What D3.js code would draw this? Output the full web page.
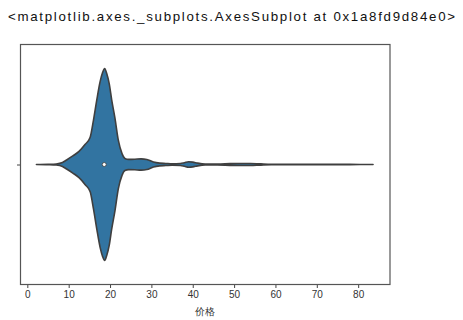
<!DOCTYPE html>
<html>
<head>
<meta charset="utf-8">
<script src="https://cdn.jsdelivr.net/npm/d3@7"></script>
<style>
  body { margin: 0; background: #fff; }
  text { font-family: "Liberation Sans", Arial, sans-serif; }
</style>
</head>
<body>
<svg id="chart" width="463" height="320"></svg>
<script>
// kde outline of the price column (peak = 1)
const price = [2.2, 5, 7, 8.5, 9.5, 11, 12.5, 14, 15.2, 16, 16.8, 17.6, 18.2, 18.7, 19.2, 19.8, 20.4, 21.2, 22, 22.9, 23.6, 24.5, 26, 27.5, 28.9, 30.5, 32, 33.5, 35, 37, 38, 39, 40, 41.2, 43, 46, 49, 52, 54, 56.5, 59, 65, 72, 78, 83.6];
const density = [0, .002, .006, .021, .047, .089, .137, .21, .284, .463, .674, .863, .958, 1, .947, .842, .674, .481, .253, .113, .063, .053, .055, .059, .053, .025, .014, .011, .008, .011, .019, .028, .025, .014, .005, .005, .009, .011, .010, .006, .003, .002, .001, .001, 0];
const median = 18.6;
const xTicks = [0, 10, 20, 30, 40, 50, 60, 70, 80];
const xLabel = "价格";
const title = "<matplotlib.axes._subplots.AxesSubplot at 0x1a8fd9d84e0>";

const margin = {top: 44.5, right: 73, bottom: 35.5, left: 20.5};
const width = 463 - margin.left - margin.right;
const height = 320 - margin.top - margin.bottom;

const svg = d3.select('#chart');

// repr line printed above the figure
svg.append('text')
  .attr('x', 8)
  .attr('y', 21)
  .attr('font-family', '"Liberation Mono", "DejaVu Sans Mono", monospace')
  .attr('font-size', 13.3)
  .attr('fill', '#111')
  .attr('textLength', 447)
  .text(title);

const g = svg.append('g')
  .attr('transform', 'translate(' + margin.left + ',' + margin.top + ')');

// x scale: price, y scale: single category band from -0.5 to 0.5
let x = d3.scaleLinear().domain([-1.65, 87.7]).range([0, width]);
let y = d3.scaleLinear().domain([-0.5, 0.5]).range([0, height]);

// violin half width = 0.4 of the category
let w = d3.scaleLinear().domain([0, 1]).range([0, 0.4]);

const pts = price.map((p, i) => ({p: p, d: density[i]}));

const area = d3.area()
  .x(d => x(d.p))
  .y0(d => y(-w(d.d)))
  .y1(d => y(w(d.d)))
  .curve(d3.curveMonotoneX);

g.append('path')
  .datum(pts)
  .attr('d', area)
  .attr('fill', '#3274a1')
  .attr('stroke', '#3f3f3f')
  .attr('stroke-width', 1.6)
  .attr('stroke-linejoin', 'round');

// median dot
g.append('circle')
  .attr('cx', x(median))
  .attr('cy', y(0))
  .attr('r', 2)
  .attr('fill', '#fff')
  .attr('stroke', '#3f3f3f')
  .attr('stroke-width', 0.8);

// x axis
const xAxis = g.append('g')
  .attr('transform', 'translate(0,' + height + ')')
  .call(d3.axisBottom(x).tickValues(xTicks).tickSize(3.5).tickPadding(2.5));
xAxis.select('.domain').remove();
xAxis.selectAll('line').attr('stroke', '#444');
xAxis.selectAll('text')
  .attr('font-size', 10)
  .attr('fill', '#333')
  .attr('font-family', '"Liberation Sans", Arial, sans-serif');

// y axis: one tick, no label
const yAxis = g.append('g')
  .call(d3.axisLeft(y).tickValues([0]).tickSize(3.5).tickFormat(''));
yAxis.select('.domain').remove();
yAxis.selectAll('line').attr('stroke', '#444');

// spines
g.append('rect')
  .attr('x', 0)
  .attr('y', 0)
  .attr('width', width)
  .attr('height', height)
  .attr('fill', 'none')
  .attr('stroke', '#555')
  .attr('stroke-width', 1.2);

// axis label
g.append('text')
  .attr('x', width / 2)
  .attr('y', height + 30)
  .attr('text-anchor', 'middle')
  .attr('font-size', 10)
  .attr('fill', '#333')
  .attr('font-family', '"Noto Sans CJK SC", sans-serif')
  .text(xLabel);
</script>
</body>
</html>
